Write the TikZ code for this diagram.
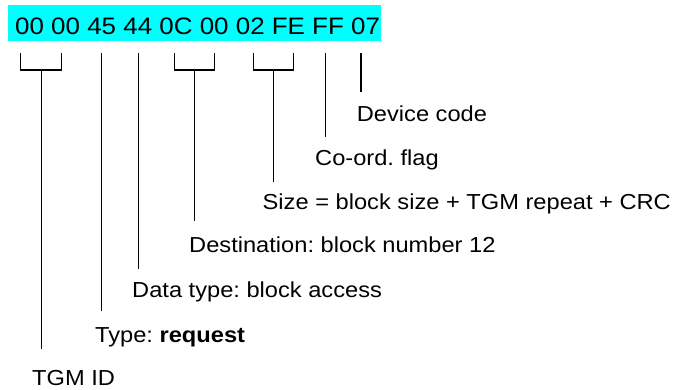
\documentclass[tikz,border=0pt]{standalone}
\usepackage{fontspec}
\setmainfont[FakeStretch=1.09]{Liberation Sans}
\definecolor{hdrcyan}{RGB}{0,255,255}
\frenchspacing
\begin{document}
\begin{tikzpicture}[x=1pt,y=-1pt,
  lbl/.style={anchor=base west, inner sep=0pt, font=\fontsize{21.7}{26}\selectfont},
  hdrtext/.style={anchor=base west, inner sep=0pt, font=\fontsize{23.8}{28}\selectfont},
  conn/.style={line width=1.5pt, line join=miter}]
\useasboundingbox (0,0) rectangle (687,389);
% header
\fill[hdrcyan] (8,5) rectangle (381,41);
\node[hdrtext] (hdr) at (15,34.3) {00 00 45 44 0C 00 02 FE FF 07};
% labels
\node[lbl] (dev)   at (356.7,121)  {Device code};
\node[lbl] (coord) at (315,165.5)  {Co-ord. flag};
\node[lbl] (size)  at (262.5,209)  {Size = block size + TGM repeat + CRC};
\node[lbl] (dest)  at (189,252.7)  {Destination: block number 12};
\node[lbl] (dtype) at (132,297)    {Data type: block access};
\node[lbl] (type)  at (95,342)     {Type: \textbf{request}};
\node[lbl] (tgm)   at (32,385)     {TGM ID};
% bracket/line tops
\coordinate (b1) at (41.3,70);
\coordinate (t2) at (101.7,53);
\coordinate (t3) at (138.3,53);
\coordinate (b4) at (194.3,70);
\coordinate (b5) at (273.3,70);
\coordinate (t6) at (325.7,53);
\coordinate (t7) at (361,53);
% line ends
\coordinate (e1) at (41.3,349);
\coordinate (e2) at (101.7,311);
\coordinate (e3) at (138.3,269);
\coordinate (e4) at (194.3,221);
\coordinate (e5) at (273.3,182.3);
\coordinate (e6) at (325.7,137.3);
\coordinate (e7) at (361,91.7);
% brackets
\draw[conn] (20.7,53) -- (20.7,70) -- (61.7,70) -- (61.7,53);
\draw[conn] (174.3,53) -- (174.3,70) -- (214.3,70) -- (214.3,53);
\draw[conn] (253.3,53) -- (253.3,70) -- (293.3,70) -- (293.3,53);
% connectors
\draw[conn] (b1) -- (e1);
\draw[conn] (t2) -- (e2);
\draw[conn] (t3) -- (e3);
\draw[conn] (b4) -- (e4);
\draw[conn] (b5) -- (e5);
\draw[conn] (t6) -- (e6);
\draw[conn] (t7) -- (e7);
\end{tikzpicture}
\end{document}
